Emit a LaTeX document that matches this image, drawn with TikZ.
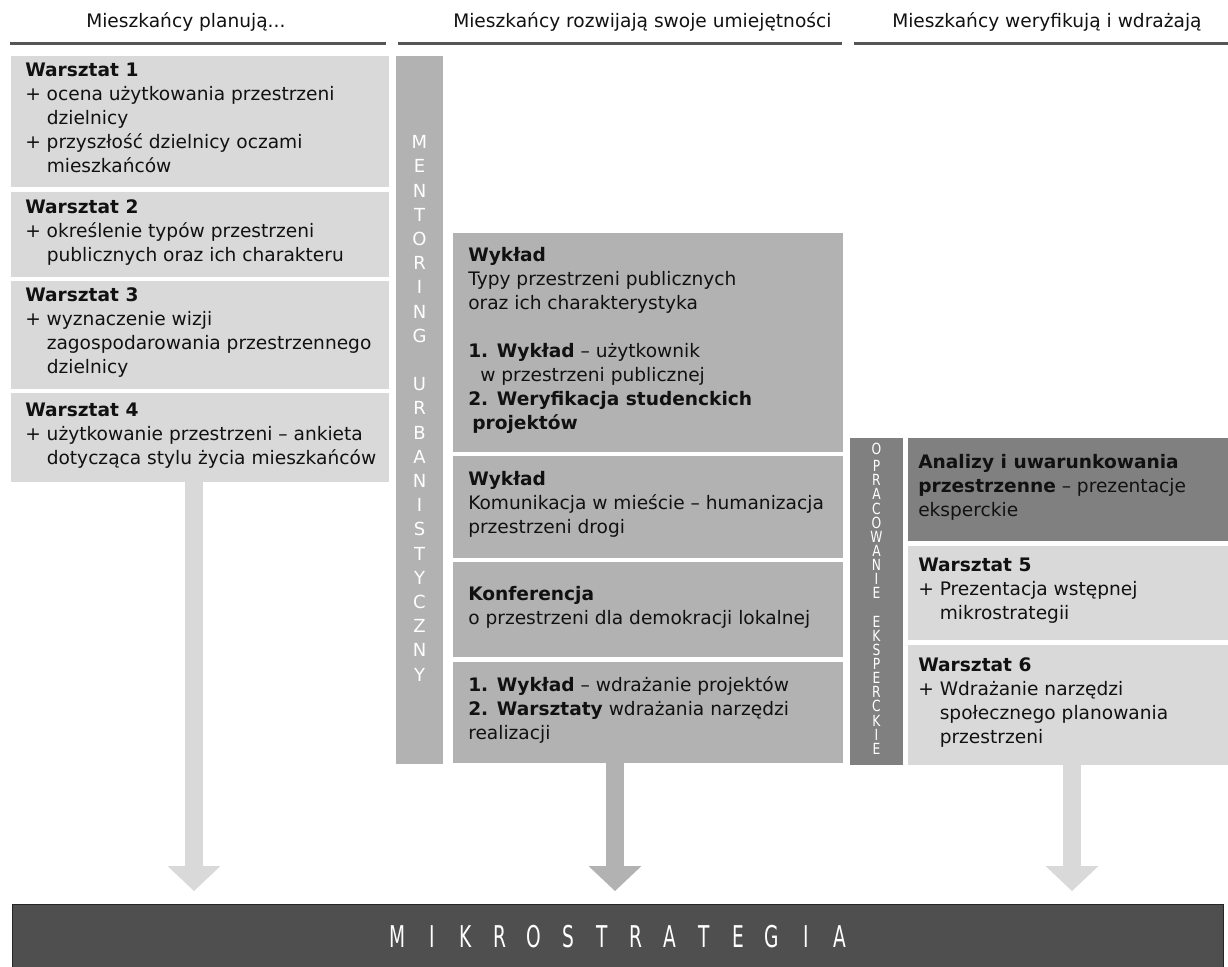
\documentclass[tikz,border=0pt]{standalone}
\usepackage{fontspec}
\setmainfont{DejaVu Sans}
\newfontfamily\mikfont[FakeStretch=0.62]{DejaVu Sans}
\newfontfamily\narrowfont[FakeStretch=0.8]{DejaVu Sans}
\usetikzlibrary{arrows.meta,calc}
\definecolor{lg}{HTML}{D9D9D9}
\definecolor{mg}{HTML}{B2B2B2}
\definecolor{dg}{HTML}{808080}
\definecolor{barc}{HTML}{4F4F4F}
\definecolor{hl}{HTML}{555555}
\definecolor{tx}{HTML}{111111}
\newcommand\lb[1]{\makebox[25.5pt]{#1}}
\newcommand\st{\strut}
\newcommand\ind{\phantom{+ }}
\begin{document}
\begin{tikzpicture}[x=0.75pt,y=-0.75pt,
  box/.style={rectangle, inner sep=0pt, outer sep=0pt, anchor=north west},
  lbox/.style={box, fill=lg, minimum width=283.5pt},
  mbox/.style={box, fill=mg, minimum width=292.5pt},
  rbox/.style={box, fill=lg, minimum width=240pt},
  txt/.style={anchor=west, align=left, inner sep=0pt, text=tx, font=\fontsize{13.95pt}{18pt}\selectfont},
  hdr/.style={anchor=base west, inner sep=0pt, text=tx, font=\fontsize{13.95pt}{18pt}\selectfont},
  hline/.style={draw=hl, line width=2.25pt},
  vlet/.style={align=center, inner sep=0pt, text=white},
  arr/.style={line width=13.5pt, -{Triangle[length=18.75pt,width=39.75pt,line width=0pt]}, shorten >=9.75pt}
]
\useasboundingbox (0,0) rectangle (1228,967);

% headers
\node[hdr] (h1) at (86,27) {Mieszkańcy planują...};
\node[hdr] (h2) at (453,27) {Mieszkańcy rozwijają swoje umiejętności};
\node[hdr] (h3) at (892,27) {Mieszkańcy weryfikują i wdrażają};
\draw[hline] (10,43) -- (386,43);
\draw[hline] (398,43) -- (842,43);
\draw[hline] (854,43) -- (1228,43);

% left column
\node[lbox, minimum height=98.25pt] (w1) at (11,56) {};
\node[lbox, minimum height=63.75pt] (w2) at (11,192) {};
\node[lbox, minimum height=81pt] (w3) at (11,281) {};
\node[lbox, minimum height=66.75pt] (w4) at (11,393) {};
\node[txt] (w1t) at ($(w1.west)+(14,-2)$) {\st\textbf{Warsztat 1}\\+ ocena użytkowania przestrzeni\\\ind dzielnicy\\+ przyszłość dzielnicy oczami\\\ind mieszkańców\st};
\node[txt] (w2t) at ($(w2.west)+(14,-2)$) {\st\textbf{Warsztat 2}\\+ określenie typów przestrzeni\\\ind publicznych oraz ich charakteru\st};
\node[txt] (w3t) at ($(w3.west)+(14,-2)$) {\st\textbf{Warsztat 3}\\+ wyznaczenie wizji\\\ind zagospodarowania przestrzennego\\\ind dzielnicy\st};
\node[txt] (w4t) at ($(w4.west)+(14,-2)$) {\st\textbf{Warsztat 4}\\+ użytkowanie przestrzeni – ankieta\\\ind dotycząca stylu życia mieszkańców\st};

% mentoring bar
\node[box, fill=mg, minimum width=35.25pt, minimum height=531pt] (ment) at (396,56) {};
\node[vlet, font=\fontsize{13.5pt}{18.15pt}\selectfont] (mentt) at (419.5,410)
  {\st M\\E\\N\\T\\O\\R\\I\\N\\G\\\mbox{}\\U\\R\\B\\A\\N\\I\\S\\T\\Y\\C\\Z\\N\\Y\st};

% middle column
\node[mbox, minimum height=164.25pt] (m1) at (453,233) {};
\node[mbox, minimum height=76.5pt] (m2) at (453,456) {};
\node[mbox, minimum height=71.25pt] (m3) at (453,562) {};
\node[mbox, minimum height=75.75pt] (m4) at (453,662) {};
\node[txt] (m1t) at ($(m1.west)+(15,-2)$) {\st\textbf{Wykład}\\Typy przestrzeni publicznych\\oraz ich charakterystyka\\\mbox{}\\\textbf{1. Wykład} – użytkownik\\\hspace*{9pt}w przestrzeni publicznej\\\textbf{2. Weryfikacja studenckich}\\\hspace*{3pt}\textbf{projektów}\st};
\node[txt] (m2t) at ($(m2.west)+(15,-2)$) {\st\textbf{Wykład}\\Komunikacja w mieście – humanizacja\\przestrzeni drogi\st};
\node[txt] (m3t) at ($(m3.west)+(15,-2)$) {\st\textbf{Konferencja}\\o przestrzeni dla demokracji lokalnej\st};
\node[txt] (m4t) at ($(m4.west)+(15,-2)$) {\st\textbf{1. Wykład} – wdrażanie projektów\\\textbf{2. Warsztaty} wdrażania narzędzi\\realizacji\st};

% opracowanie bar
\node[box, fill=dg, minimum width=39.75pt, minimum height=245.25pt] (opr) at (850,438) {};
\node[vlet, font=\narrowfont\fontsize{11.5pt}{10.6pt}\selectfont] (oprt) at (876.5,601)
  {\st O\\P\\R\\A\\C\\O\\W\\A\\N\\I\\E\\\mbox{}\\E\\K\\S\\P\\E\\R\\C\\K\\I\\E\st};

% right column
\node[box, fill=dg, minimum width=240pt, minimum height=77.25pt] (a1) at (908,438) {};
\node[rbox, minimum height=70.5pt] (r5) at (908,546) {};
\node[rbox, minimum height=90pt] (r6) at (908,645) {};
\node[txt] (a1t) at ($(a1.west)+(10,-2)$) {\st\textbf{Analizy i uwarunkowania}\\\textbf{przestrzenne} – prezentacje\\eksperckie\st};
\node[txt] (r5t) at ($(r5.west)+(10,-2)$) {\st\textbf{Warsztat 5}\\+ Prezentacja wstępnej\\\ind mikrostrategii\st};
\node[txt] (r6t) at ($(r6.west)+(10,-2)$) {\st\textbf{Warsztat 6}\\+ Wdrażanie narzędzi\\\ind społecznego planowania\\\ind przestrzeni\st};

% bottom bar
\node[box, fill=barc, draw=black!85, line width=0.75pt, minimum width=908.25pt, minimum height=51pt] (mik) at (12,904) {};
\node[inner sep=0pt, text=white, font={\mikfont\fontsize{22.5pt}{26pt}\selectfont}] (mikt) at (619,937)
  {\lb{M}\lb{I}\lb{K}\lb{R}\lb{O}\lb{S}\lb{T}\lb{R}\lb{A}\lb{T}\lb{E}\lb{G}\lb{I}\lb{A}};

% arrows
\coordinate (c1) at (194,0);
\coordinate (c2) at (615,0);
\coordinate (c3) at (1072,0);
\draw[arr, draw=lg] (w4.south -| c1) -- (c1 |- mik.north);
\draw[arr, draw=mg] (m4.south -| c2) -- (c2 |- mik.north);
\draw[arr, draw=lg] (r6.south -| c3) -- (c3 |- mik.north);
\end{tikzpicture}
\end{document}
